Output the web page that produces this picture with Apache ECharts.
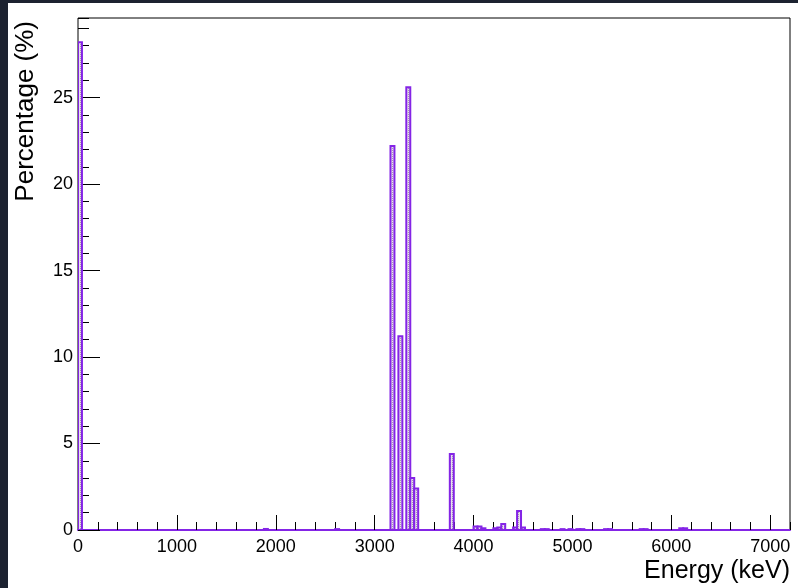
<!DOCTYPE html>
<html>
<head>
<meta charset="utf-8">
<title>Energy spectrum</title>
<script src="https://cdn.jsdelivr.net/npm/echarts@6/dist/echarts.min.js"></script>
<style>
    html, body { margin: 0; padding: 0; background: #1c2230; }
    #wrap { position: absolute; left: 8px; top: 3px; right: 0; bottom: 0; background: #fff; }
    #chart { position: absolute; left: 0; top: 0; width: 798px; height: 588px; }
</style>
</head>
<body>
<div id="wrap"></div>
<div id="chart"></div>
<script>
// 直方图数据（每个 bin 宽 40 keV，只列出非零的 bin）
const BIN_WIDTH = 40;
const binStarts = [0, 1880, 2600, 3160, 3240, 3320, 3360, 3400, 3760,
    4000, 4040, 4080, 4200, 4240, 4280, 4400, 4440, 4480, 4680, 4720,
    4880, 4960, 5040, 5080, 5320, 5360, 5680, 5720, 6080, 6120];
const percentages = [28.2, 0.06, 0.05, 22.2, 11.2, 25.6, 3.0, 2.4, 4.4,
    0.2, 0.2, 0.1, 0.1, 0.15, 0.35, 0.15, 1.1, 0.15, 0.05, 0.05,
    0.05, 0.05, 0.05, 0.05, 0.05, 0.05, 0.05, 0.05, 0.1, 0.1];

// 坐标轴
const X_MIN = 0, X_MAX = 7200, X_MAJOR = 1000, X_MINOR = 200;
const Y_MIN = 0, Y_MAX = 29.6, Y_MAJOR = 5, Y_MINOR = 1;
const xTitle = 'Energy (keV)';
const yTitle = 'Percentage (%)';

const LINE_COLOR = '#8424e6';
const FONT = '"Liberation Sans", Arial, Helvetica, sans-serif';

/**
 * 点状填充图案（类似 ROOT 的 fill style）
 */
function makeDotPattern() {
    const c = document.createElement('canvas');
    c.width = 2;
    c.height = 2;
    const ctx = c.getContext('2d');
    ctx.fillStyle = '#e8dfec';
    ctx.fillRect(0, 0, 2, 2);
    ctx.fillStyle = '#a898b4';
    ctx.fillRect(0, 0, 1, 1);
    return c;
}

const chart = echarts.init(document.getElementById('chart'), null, { renderer: 'canvas' });
const dotPattern = { image: makeDotPattern(), repeat: 'repeat' };

const option = {
    animation: false,
    textStyle: { fontFamily: FONT },
    grid: {
        left: 78, right: 8, top: 18, bottom: 58,
        show: true, borderColor: '#000', borderWidth: 1, backgroundColor: 'transparent'
    },
    xAxis: [{
        type: 'value', min: X_MIN, max: X_MAX, interval: X_MAJOR,
        axisLine: { show: true, onZero: false, lineStyle: { color: LINE_COLOR, width: 2 } },
        axisTick: { show: true, inside: true, length: 15, lineStyle: { color: '#000' } },
        axisLabel: {
            color: '#000', fontSize: 18, fontFamily: FONT, margin: 8, showMaxLabel: false,
            formatter: (v) => String(v)
        },
        splitLine: { show: false }
    }, {
        // 次刻度
        type: 'value', min: X_MIN, max: X_MAX, interval: X_MINOR, position: 'bottom',
        axisLine: { show: false },
        axisTick: { show: true, inside: true, length: 8, lineStyle: { color: '#000' } },
        axisLabel: { show: false },
        splitLine: { show: false }
    }],
    yAxis: [{
        type: 'value', min: Y_MIN, max: Y_MAX, interval: Y_MAJOR,
        axisLine: { show: false },
        axisTick: { show: true, inside: true, length: 22, lineStyle: { color: '#000' } },
        axisLabel: {
            color: '#000', fontSize: 18, fontFamily: FONT, margin: 5, showMaxLabel: false,
            formatter: (v) => String(v)
        },
        splitLine: { show: false }
    }, {
        type: 'value', min: Y_MIN, max: Y_MAX, interval: Y_MINOR, position: 'left',
        axisLine: { show: false },
        axisTick: { show: true, inside: true, length: 11, lineStyle: { color: '#000' } },
        axisLabel: { show: false },
        splitLine: { show: false }
    }],
    graphic: [{
        type: 'text', x: 790, y: 571,
        style: { text: xTitle, font: '25px ' + FONT, fill: '#000', align: 'right', verticalAlign: 'middle' }
    }, {
        type: 'text', x: 26, y: 21, rotation: Math.PI / 2,
        style: { text: yTitle, font: '26px ' + FONT, fill: '#000', align: 'right', verticalAlign: 'middle' }
    }],
    series: [{
        type: 'custom',
        xAxisIndex: 0,
        yAxisIndex: 0,
        clip: true,
        data: binStarts.map((x, i) => [x, percentages[i]]),
        renderItem: (params, api) => {
            const x0 = api.value(0);
            const h = api.value(1);
            const p0 = api.coord([x0, h]);
            const p1 = api.coord([x0 + BIN_WIDTH, 0]);
            return {
                type: 'rect',
                shape: { x: p0[0], y: p0[1], width: p1[0] - p0[0], height: p1[1] - p0[1] },
                style: { fill: dotPattern, stroke: LINE_COLOR, lineWidth: 2 }
            };
        }
    }]
};

chart.setOption(option);
</script>
</body>
</html>
